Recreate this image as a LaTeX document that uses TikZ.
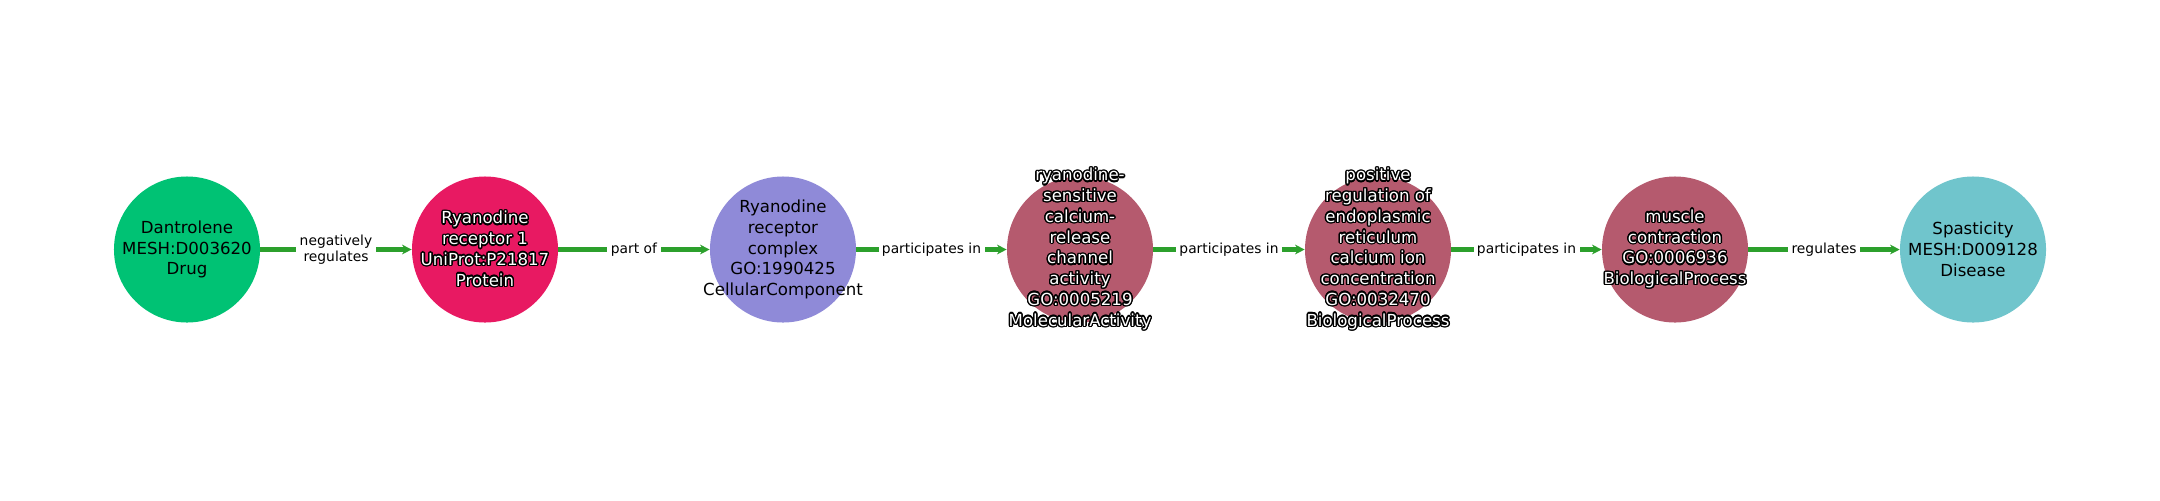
\documentclass[tikz,border=0pt]{standalone}
\usepackage{fontspec}
\setmainfont{DejaVu Sans}
\usepackage{contour}
\contourlength{1pt}
\usepackage{tikz}
\usetikzlibrary{arrows.meta}
\definecolor{drugc}{RGB}{0,194,116}
\definecolor{protc}{RGB}{232,25,98}
\definecolor{compc}{RGB}{143,138,216}
\definecolor{procc}{RGB}{181,90,110}
\definecolor{disc}{RGB}{112,197,204}
\definecolor{edgec}{RGB}{44,160,44}
\newcommand{\wl}[1]{\contour{black}{#1}}

\begin{document}
\begin{tikzpicture}[x=0.0254cm,y=-0.0254cm,
    main node/.style={circle,minimum size=3.71cm,inner sep=0pt},
    dark text/.style={align=center,inner sep=0pt,font=\fontsize{12}{15}\selectfont,text=black},
    light text/.style={dark text,text=white},
    rel/.style={-{Stealth[length=7pt,width=7pt]},line width=3pt,color=edgec},
    rel label/.style={fill=white,text=black,inner sep=2.5pt,align=center,
      font=\fontsize{10}{11.5}\selectfont}]
  \useasboundingbox (0,0) rectangle (2160,500);
  % entities along the path
  \node[main node,fill=drugc,label={[dark text]center:{Dantrolene\\MESH:D003620\\Drug}}] (drug) at (187,249.5) {};
  \node[main node,fill=protc,label={[light text]center:{\wl{Ryanodine}\\\wl{receptor 1}\\\wl{UniProt:P21817}\\\wl{Protein}}}] (ryr1) at (485,249.5) {};
  \node[main node,fill=compc,label={[dark text]center:{Ryanodine\\receptor\\complex\\GO:1990425\\CellularComponent}}] (cplx) at (783,249.5) {};
  \node[main node,fill=procc,label={[light text]center:{\wl{ryanodine-}\\\wl{sensitive}\\\wl{calcium-}\\\wl{release}\\\wl{channel}\\\wl{activity}\\\wl{GO:0005219}\\\wl{MolecularActivity}}}] (chan) at (1080,249.5) {};
  \node[main node,fill=procc,label={[light text]center:{\wl{positive}\\\wl{regulation of}\\\wl{endoplasmic}\\\wl{reticulum}\\\wl{calcium ion}\\\wl{concentration}\\\wl{GO:0032470}\\\wl{BiologicalProcess}}}] (erca) at (1378,249.5) {};
  \node[main node,fill=procc,label={[light text]center:{\wl{muscle}\\\wl{contraction}\\\wl{GO:0006936}\\\wl{BiologicalProcess}}}] (musc) at (1675,249.5) {};
  \node[main node,fill=disc,label={[dark text]center:{Spasticity\\MESH:D009128\\Disease}}] (spas) at (1973,249.5) {};

  \path[rel] (drug) edge node[rel label] {negatively\\regulates} (ryr1);
  \path[rel] (ryr1) edge node[rel label] {part of} (cplx);
  \path[rel] (cplx) edge node[rel label] {participates in} (chan);
  \path[rel] (chan) edge node[rel label] {participates in} (erca);
  \path[rel] (erca) edge node[rel label] {participates in} (musc);
  \path[rel] (musc) edge node[rel label] {regulates} (spas);
\end{tikzpicture}
\end{document}
